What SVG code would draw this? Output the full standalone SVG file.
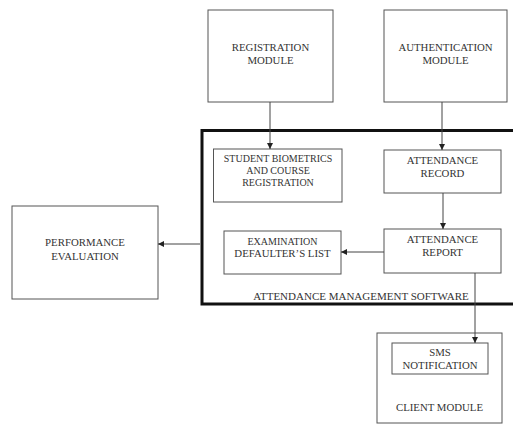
<svg xmlns="http://www.w3.org/2000/svg" width="513" height="426" viewBox="0 0 513 426">
<style>
.box{fill:#fff;stroke:#555;stroke-width:1}
.big{fill:none;stroke:#111;stroke-width:3}
.t{font-family:"Liberation Serif","Times New Roman",serif;font-size:10.8px;fill:#333;text-anchor:middle}
.s{font-size:10px}
.c{stroke:#444;stroke-width:1;fill:none;marker-end:url(#ah)}
</style>
<defs>
<marker id="ah" viewBox="0 0 10 10" refX="10" refY="5" markerWidth="6" markerHeight="6" orient="auto" markerUnits="userSpaceOnUse">
<path d="M0,0 L10,5 L0,10 z" fill="#222"/>
</marker>
</defs>
<rect width="513" height="426" fill="#fff"/>
<g id="ams">
<rect class="big" x="202" y="130.5" width="330" height="173.5"/>
<text class="t" x="361" y="300" style="font-size:11px">ATTENDANCE MANAGEMENT SOFTWARE</text>
</g>
<g id="registration">
<rect class="box" x="208" y="10" width="125" height="92"/>
<text class="t" x="270.5" y="51">REGISTRATION</text>
<text class="t" x="270.5" y="64">MODULE</text>
</g>
<g id="authentication">
<rect class="box" x="384" y="10" width="123" height="92"/>
<text class="t" x="445.5" y="51">AUTHENTICATION</text>
<text class="t" x="445.5" y="64">MODULE</text>
</g>
<g id="biometrics">
<rect class="box" x="213.5" y="149" width="128.5" height="53"/>
<text class="t s" x="278" y="162">STUDENT BIOMETRICS</text>
<text class="t s" x="278" y="174">AND COURSE</text>
<text class="t s" x="278" y="186">REGISTRATION</text>
</g>
<g id="record">
<rect class="box" x="384" y="150" width="117" height="43"/>
<text class="t" x="442.5" y="164">ATTENDANCE</text>
<text class="t" x="442.5" y="177">RECORD</text>
</g>
<g id="report">
<rect class="box" x="384" y="229" width="117" height="44"/>
<text class="t" x="442.5" y="243">ATTENDANCE</text>
<text class="t" x="442.5" y="256">REPORT</text>
</g>
<g id="defaulters">
<rect class="box" x="224" y="231" width="117" height="43"/>
<text class="t s" x="282.5" y="245">EXAMINATION</text>
<text class="t" x="282.5" y="257">DEFAULTER’S LIST</text>
</g>
<g id="performance">
<rect class="box" x="12" y="206" width="146" height="93"/>
<text class="t" x="85" y="246">PERFORMANCE</text>
<text class="t" x="85" y="260">EVALUATION</text>
</g>
<g id="client">
<rect class="box" x="377" y="333" width="125" height="90"/>
<text class="t" x="439.5" y="411">CLIENT MODULE</text>
</g>
<g id="sms">
<rect class="box" x="392" y="343" width="96" height="31"/>
<text class="t" x="440" y="356">SMS</text>
<text class="t" x="440" y="369">NOTIFICATION</text>
</g>
<g id="connectors">
<line class="c" x1="270" y1="102" x2="270" y2="149"/>
<line class="c" x1="442" y1="102" x2="442" y2="150"/>
<line class="c" x1="443" y1="193" x2="443" y2="229"/>
<line class="c" x1="384" y1="252" x2="341" y2="252"/>
<line class="c" x1="200" y1="244" x2="158" y2="244"/>
<line class="c" x1="475" y1="273" x2="475" y2="343"/>
</g>
</svg>
